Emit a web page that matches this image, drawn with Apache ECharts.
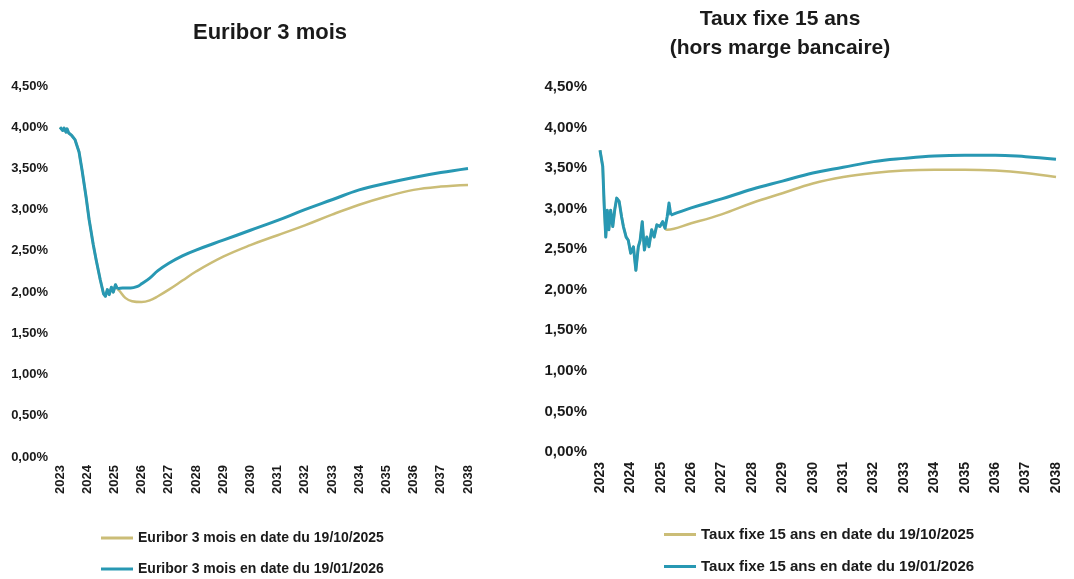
<!DOCTYPE html>
<html>
<head>
<meta charset="utf-8">
<script src="https://cdn.jsdelivr.net/npm/echarts@6/dist/echarts.min.js"></script>
<style>
  html, body { margin: 0; padding: 0; background: #fff; }
  #chart { width: 1074px; height: 579px; }
</style>
</head>
<body>
<div id="chart"></div>
<script>
const FONT = '"Liberation Sans", Arial, sans-serif'
const TEXT = '#1a1a1a'
const TEAL = '#2898b3'
const KHAKI = '#cbbd77'

// Euribor 3 mois - historique commun
const eurHistX = [2023.0, 2023.1, 2023.15, 2023.22, 2023.26, 2023.32, 2023.37, 2023.43, 2023.48, 2023.55, 2023.6, 2023.7, 2023.81, 2023.96, 2024.07, 2024.22, 2024.33, 2024.48, 2024.6, 2024.67, 2024.74, 2024.81, 2024.89, 2024.96, 2025.04, 2025.11]
const eurHistY = [4.00, 3.96, 3.99, 3.94, 3.98, 3.93, 3.95, 3.90, 3.92, 3.85, 3.80, 3.70, 3.48, 3.15, 2.88, 2.58, 2.39, 2.15, 1.98, 1.95, 2.03, 1.97, 2.06, 2.00, 2.09, 2.04]
// courbe forward au 19/10/2025
const eurOctX = [2025.2, 2025.4, 2025.65, 2026.0, 2026.3, 2026.6, 2027, 2027.5, 2028, 2029, 2030, 2031, 2032, 2033, 2034, 2035, 2036, 2037, 2038]
const eurOctY = [2.01, 1.93, 1.89, 1.88, 1.90, 1.95, 2.03, 2.14, 2.25, 2.43, 2.57, 2.69, 2.81, 2.94, 3.06, 3.16, 3.24, 3.28, 3.30]
// courbe forward au 19/01/2026
const eurJanX = [2025.3, 2025.6, 2025.85, 2026.0, 2026.3, 2026.6, 2027, 2027.5, 2028, 2029, 2030, 2031, 2032, 2033, 2034, 2035, 2036, 2037, 2038]
const eurJanY = [2.05, 2.05, 2.07, 2.10, 2.17, 2.26, 2.35, 2.44, 2.51, 2.63, 2.75, 2.87, 3.00, 3.12, 3.24, 3.32, 3.39, 3.45, 3.50]

// Taux fixe 15 ans - historique commun
const tfHistX = [2023.0, 2023.09, 2023.14, 2023.19, 2023.24, 2023.29, 2023.35, 2023.42, 2023.49, 2023.55, 2023.63, 2023.71, 2023.77, 2023.86, 2023.93, 2024.01, 2024.1, 2024.18, 2024.26, 2024.32, 2024.39, 2024.46, 2024.54, 2024.61, 2024.7, 2024.78, 2024.87, 2024.97, 2025.06]
const tfHistY = [3.72, 3.52, 3.02, 2.65, 2.98, 2.74, 2.98, 2.78, 3.00, 3.13, 3.09, 2.90, 2.78, 2.65, 2.61, 2.45, 2.53, 2.24, 2.53, 2.61, 2.84, 2.49, 2.65, 2.53, 2.74, 2.65, 2.80, 2.78, 2.84]
// fin d'historique au 19/01/2026
const tfJanHistX = [2025.14, 2025.21, 2025.27, 2025.33]
const tfJanHistY = [2.76, 2.90, 3.07, 2.92]
// courbe au 19/10/2025
const tfOctX = [2025.14, 2025.2, 2026, 2027, 2028, 2029, 2030, 2031, 2032, 2033, 2034, 2035, 2036, 2037, 2038]
const tfOctY = [2.76, 2.74, 2.82, 2.93, 3.07, 3.19, 3.31, 3.39, 3.44, 3.47, 3.48, 3.48, 3.47, 3.44, 3.39]
// courbe au 19/01/2026
const tfJanX = [2026, 2027, 2028, 2029, 2030, 2031, 2032, 2033, 2034, 2035, 2036, 2037, 2038]
const tfJanY = [3.01, 3.12, 3.24, 3.34, 3.44, 3.51, 3.58, 3.62, 3.65, 3.66, 3.66, 3.64, 3.61]

const legendEur = ['Euribor 3 mois en date du 19/10/2025', 'Euribor 3 mois en date du 19/01/2026']
const legendTf = ['Taux fixe 15 ans en date du 19/10/2025', 'Taux fixe 15 ans en date du 19/01/2026']

// couples [x, y]
function pairs(xs, ys) {
  return xs.map((x, i) => [x, ys[i]])
}

function pct(v) {
  return v.toFixed(2).replace('.', ',') + '%'
}

function xAxisCfg(idx, size, margin) {
  return {
    type: 'value', gridIndex: idx, min: 2023, max: 2038, interval: 1,
    axisLine: { show: false }, axisTick: { show: false }, splitLine: { show: false },
    axisLabel: {
      rotate: 90, margin, formatter: v => String(v),
      fontFamily: FONT, fontWeight: 'bold', fontSize: size, color: TEXT
    }
  }
}

function yAxisCfg(idx, size, margin) {
  return {
    type: 'value', gridIndex: idx, min: 0, max: 4.5, interval: 0.5,
    axisLine: { show: false }, axisTick: { show: false }, splitLine: { show: false },
    axisLabel: {
      margin, formatter: pct,
      fontFamily: FONT, fontWeight: 'bold', fontSize: size, color: TEXT
    }
  }
}

// historique brut (smooth = false) puis courbe lissée, sous le même nom
function line(name, idx, data, color, width, smooth) {
  return {
    name, type: 'line', xAxisIndex: idx, yAxisIndex: idx, data,
    color, showSymbol: false, symbol: 'none',
    smooth: smooth,
    lineStyle: { color, width, join: 'round' },
    animation: false
  }
}

function title(text, x, y, size) {
  return {
    type: 'text', x, y,
    style: {
      text, fill: TEXT, fontFamily: FONT, fontWeight: 'bold', fontSize: size,
      align: 'center', verticalAlign: 'middle'
    }
  }
}

function legendCfg(data, left, top, size) {
  return {
    data, orient: 'vertical', left, top, padding: 0,
    icon: 'rect', itemWidth: 32, itemHeight: 3, itemGap: 17,
    textStyle: { fontFamily: FONT, fontWeight: 'bold', fontSize: size, color: TEXT }
  }
}

const eurLastX = eurHistX[eurHistX.length - 1], eurLastY = eurHistY[eurHistY.length - 1]
const tfLastX = tfHistX[tfHistX.length - 1], tfLastY = tfHistY[tfHistY.length - 1]
const tfJanLastX = tfJanHistX[tfJanHistX.length - 1], tfJanLastY = tfJanHistY[tfJanHistY.length - 1]

const chart = echarts.init(document.getElementById('chart'))
chart.setOption({
  backgroundColor: '#fff',
  animation: false,
  graphic: [
    title('Euribor 3 mois', 270, 33, 22),
    title('Taux fixe 15 ans', 780, 19, 21),
    title('(hors marge bancaire)', 780, 48, 21)
  ],
  grid: [
    { left: 60, top: 86, width: 408, height: 371 },
    { left: 600, top: 87, width: 456, height: 365 }
  ],
  xAxis: [xAxisCfg(0, 13, 8), xAxisCfg(1, 14, 10)],
  yAxis: [yAxisCfg(0, 13, 12), yAxisCfg(1, 15, 13)],
  legend: [
    legendCfg(legendEur, 101, 531, 14),
    legendCfg(legendTf, 664, 527, 15)
  ],
  series: [
    // Euribor
    line(legendEur[0], 0, pairs(eurHistX, eurHistY), KHAKI, 2.5, false),
    line(legendEur[0], 0, pairs([eurLastX].concat(eurOctX), [eurLastY].concat(eurOctY)), KHAKI, 2.5, 0.4),
    line(legendEur[1], 0, pairs([eurLastX].concat(eurJanX), [eurLastY].concat(eurJanY)), TEAL, 3, 0.4),
    line(legendEur[1], 0, pairs(eurHistX, eurHistY), TEAL, 3, false),
    // Taux fixe
    line(legendTf[0], 1, pairs(tfHistX, tfHistY), KHAKI, 2.5, false),
    line(legendTf[0], 1, pairs([tfLastX].concat(tfOctX), [tfLastY].concat(tfOctY)), KHAKI, 2.5, 0.4),
    line(legendTf[1], 1, pairs([tfJanLastX].concat(tfJanX), [tfJanLastY].concat(tfJanY)), TEAL, 3, 0.4),
    line(legendTf[1], 1, pairs(tfHistX.concat(tfJanHistX), tfHistY.concat(tfJanHistY)), TEAL, 3, false)
  ]
})
</script>
</body>
</html>
